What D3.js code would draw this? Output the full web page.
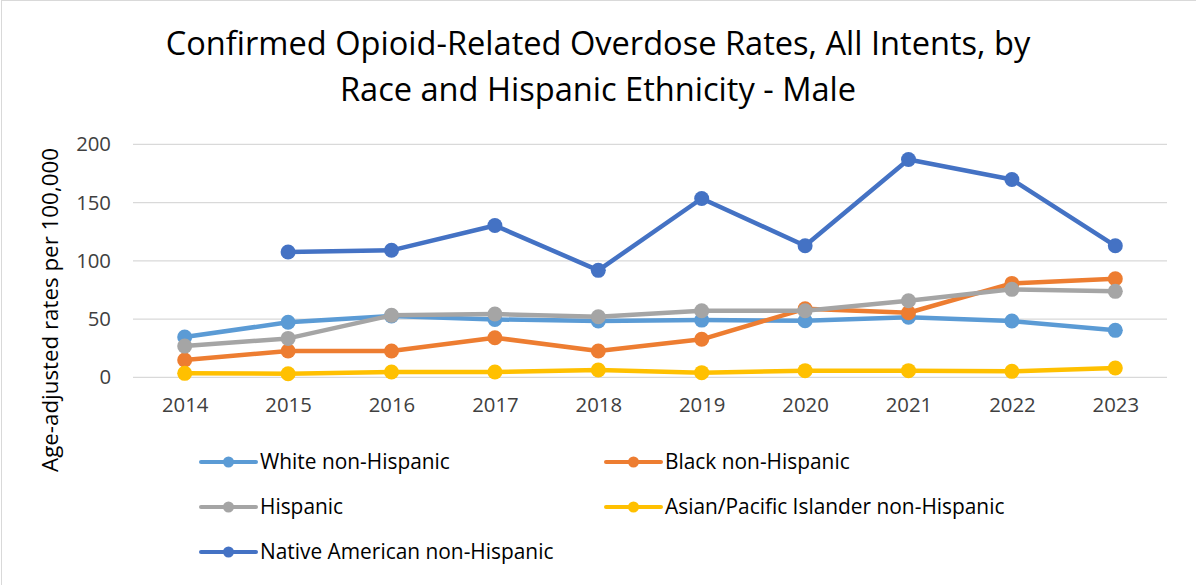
<!DOCTYPE html>
<html>
<head>
<meta charset="utf-8">
<script src="https://cdn.jsdelivr.net/npm/d3@7"></script>
<style>
  html, body { margin: 0; padding: 0; background: #fff; }
  svg { display: block; font-family: "Open Sans", sans-serif; }
</style>
</head>
<body>
<svg id="chart" width="1196" height="585"></svg>
<script>
const years = ["2014","2015","2016","2017","2018","2019","2020","2021","2022","2023"];
const yTicks = [0, 50, 100, 150, 200];
const seriesNames = ["White non-Hispanic","Black non-Hispanic","Hispanic","Asian/Pacific Islander non-Hispanic","Native American non-Hispanic"];
const whiteNH  = [34.6, 47.2, 52.6, 49.7, 48.3, 49.1, 48.5, 51.5, 48.3, 40.3];
const blackNH  = [14.8, 22.6, 22.6, 34.0, 22.6, 32.6, 58.8, 55.4, 80.6, 84.6];
const hispanic = [26.8, 33.4, 53.2, 54.3, 52.0, 57.1, 57.1, 65.7, 75.5, 73.8];
const asianNH  = [3.4, 3.1, 4.5, 4.5, 6.3, 4.0, 5.7, 5.7, 5.1, 8.0];
const nativeNH = [null, 107.5, 109.0, 130.3, 91.8, 153.5, 112.9, 187.0, 169.8, 112.9];
const colors = ["#5B9BD5", "#ED7D31", "#A5A5A5", "#FFC000", "#4472C4"];
const titleLines = ["Confirmed Opioid-Related Overdose Rates, All Intents, by", "Race and Hispanic Ethnicity - Male"];
const yTitle = "Age-adjusted rates per 100,000";

const seriesValues = [whiteNH, blackNH, hispanic, asianNH, nativeNH];
const series = seriesNames.map((name, i) => ({
  name, color: colors[i],
  values: years.map((y, j) => ({ year: y, value: seriesValues[i][j] }))
}));

const svg = d3.select("#chart");

// size a font so a reference string spans a target width
function fitSize(str, targetWidth) {
  const t = svg.append("text").attr("font-size", 100).text(str);
  const w = t.node().getComputedTextLength();
  t.remove();
  return 100 * targetWidth / w;
}
const titleSize = fitSize(titleLines[0], 865);
const tickSize = fitSize("2014", 46.5);
const legendSize = fitSize("White non-Hispanic", 190);
const yTitleSize = fitSize(yTitle, 324);

// outer border
svg.append("rect").attr("x", 1.5).attr("y", 0.5).attr("width", 1300).attr("height", 700)
  .attr("fill", "none").attr("stroke", "#D9D9D9").attr("stroke-width", 1);

const x = d3.scalePoint().domain(years).range([133, 1167]).padding(0.5);
const y = d3.scaleLinear().domain([0, 200]).range([377.3, 144.3]);

// title
titleLines.forEach((t, i) => {
  svg.append("text").attr("x", 598).attr("y", i === 0 ? 55 : 101)
    .attr("text-anchor", "middle").attr("font-size", titleSize).attr("fill", "#000")
    .text(t);
});

// gridlines
svg.append("g").selectAll("line").data(yTicks).join("line")
  .attr("x1", 133).attr("x2", 1167)
  .attr("y1", d => y(d)).attr("y2", d => y(d))
  .attr("stroke", "#D9D9D9").attr("stroke-width", 1.3);

// y axis labels
const yAxis = d3.axisLeft(y).tickValues(yTicks).tickSize(0).tickPadding(0);
const yg = svg.append("g").attr("transform", "translate(111,0)").call(yAxis);
yg.select(".domain").remove();
yg.selectAll("text").attr("font-size", tickSize).attr("fill", "#404040").attr("font-family", "'Open Sans', sans-serif");

// x axis labels
const xAxis = d3.axisBottom(x).tickSize(0).tickPadding(0);
const xg = svg.append("g").attr("transform", "translate(0,398)").call(xAxis);
xg.select(".domain").remove();
xg.selectAll("text").attr("font-size", tickSize).attr("fill", "#404040").attr("font-family", "'Open Sans', sans-serif");

// y title
svg.append("text").attr("transform", "translate(58,310) rotate(-90)")
  .attr("text-anchor", "middle").attr("font-size", yTitleSize).attr("fill", "#000")
  .text(yTitle);

// lines
const line = d3.line().defined(d => d.value != null)
  .x(d => x(d.year)).y(d => y(d.value));

const sg = svg.append("g").selectAll("g").data(series).join("g");
sg.append("path").attr("d", d => line(d.values))
  .attr("fill", "none").attr("stroke", d => d.color).attr("stroke-width", 4.5)
  .attr("stroke-linejoin", "round").attr("stroke-linecap", "round");
sg.selectAll("circle").data(d => d.values.filter(v => v.value != null).map(v => ({...v, color: d.color})))
  .join("circle").attr("cx", d => x(d.year)).attr("cy", d => y(d.value))
  .attr("r", 7.5).attr("fill", d => d.color);

// legend
const legendPos = [[201, 462], [606, 462], [201, 507], [606, 507], [201, 552]];
const lg = svg.append("g").selectAll("g").data(series).join("g")
  .attr("transform", (d, i) => `translate(${legendPos[i][0]},${legendPos[i][1]})`);
lg.append("line").attr("x1", 0).attr("x2", 55).attr("y1", 0).attr("y2", 0)
  .attr("stroke", d => d.color).attr("stroke-width", 4).attr("stroke-linecap", "round");
lg.append("circle").attr("cx", 27.5).attr("cy", 0).attr("r", 5.5).attr("fill", d => d.color);
lg.append("text").attr("x", 59).attr("y", 0).attr("dy", "0.35em")
  .attr("font-size", legendSize).attr("fill", "#000").text(d => d.name);
</script>
</body>
</html>
